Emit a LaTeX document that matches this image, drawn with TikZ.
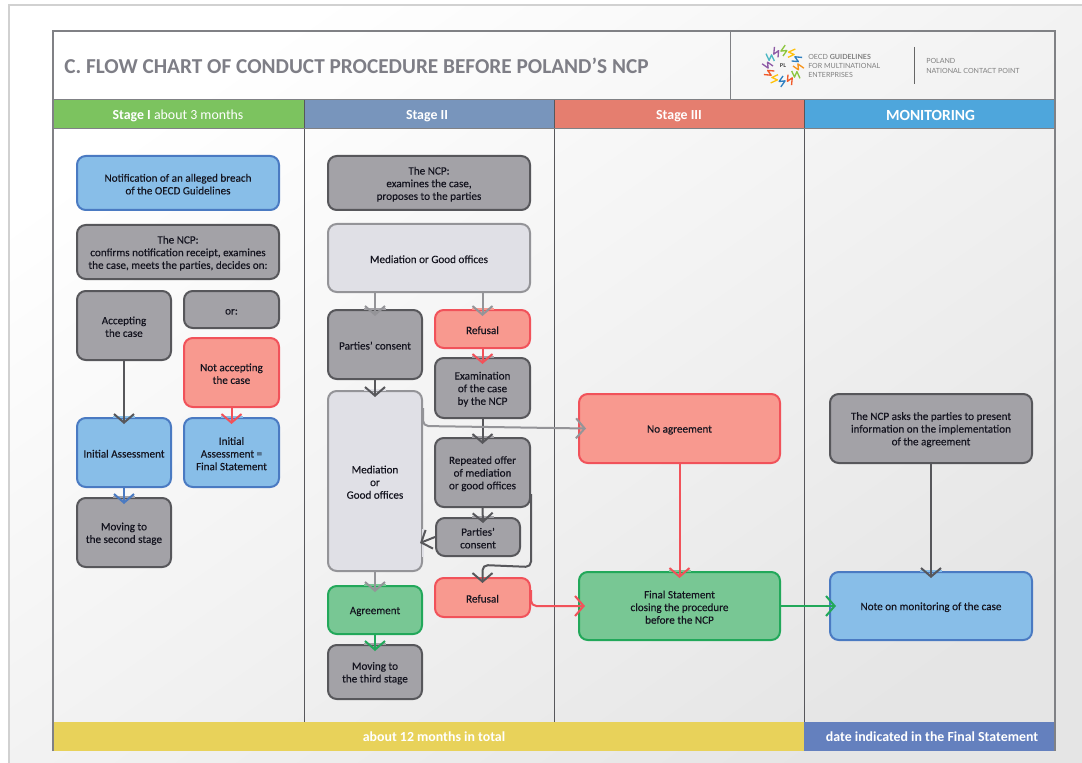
\documentclass[tikz,border=0pt]{standalone}
\usepackage{fontspec}
\setmainfont{Carlito}
\newfontfamily\logofont{Lato}
\newfontfamily\boxfont{Carlito}[FakeBold=0.25]
\usetikzlibrary{arrows.meta,calc}
\definecolor{txt}{HTML}{14141F}
\definecolor{frameg}{HTML}{808185}
\definecolor{greyf}{HTML}{A3A2A7}\definecolor{greyd}{HTML}{57575B}
\definecolor{lightf}{HTML}{E0E0E6}\definecolor{lightd}{HTML}{949498}
\definecolor{bluef}{HTML}{88BEE8}\definecolor{blued}{HTML}{4A7AC2}
\definecolor{redf}{HTML}{F8998F}\definecolor{redd}{HTML}{F1525A}
\definecolor{greenf}{HTML}{78C794}\definecolor{greend}{HTML}{22A85A}
\definecolor{hgreen}{HTML}{7CC35F}\definecolor{hblue}{HTML}{7895BC}
\definecolor{hred}{HTML}{E57E6F}\definecolor{hsky}{HTML}{4EA6DC}
\definecolor{fyellow}{HTML}{E8D25A}\definecolor{fblue}{HTML}{6480BE}
\definecolor{titleg}{HTML}{7E7E86}
\tikzset{
  x=0.75pt,y=-0.75pt,
  box/.style={rounded corners=6.5pt,line width=1.5pt,inner sep=0pt,align=center,font=\boxfont\fontsize{8.35}{9.5}\selectfont,text=txt},
  greybox/.style={box,fill=greyf,draw=greyd},
  lightbox/.style={box,fill=lightf,draw=lightd},
  bluebox/.style={box,fill=bluef,draw=blued},
  redbox/.style={box,fill=redf,draw=redd},
  greenbox/.style={box,fill=greenf,draw=greend},
  flow/.style={line width=1.5pt,rounded corners=4pt,-{Straight Barb[length=6.5pt,width=15pt]}},
  head/.style={inner sep=0pt,text=white,font=\fontsize{10.4}{12}\selectfont},
  rule/.style={draw=frameg,line width=1pt},
  colrule/.style={draw=greyd,line width=0.75pt},
  gap/.style={line width=2.2pt}
}
\newcommand{\bx}[7]{%
  \pgfmathsetmacro\bw{(#5-#3)*0.75}\pgfmathsetmacro\bh{(#6-#4)*0.75}%
  \node[#2,minimum width=\bw pt,minimum height=\bh pt] (#1) at ({(#3+#5)/2},{(#4+#6)/2}) {\rule{0pt}{7.6pt}#7};}
\newcommand{\vflow}[4]{%
  \draw[gap,#2] ($(#4.north)+(-11,0)$) -- ($(#4.north)+(11,0)$);
  \draw[flow,#1] (#4.north |- #3.south) -- ($(#4.north)+(0,7)$);}
\begin{document}
\begin{tikzpicture}
\useasboundingbox (0,0) rectangle (1082,763);
\fill[white] (0,0) rectangle (1082,763);
\shade[top color=white,bottom color=black!10,shading angle=35,draw=black!18,line width=0.8pt] (9,5) rectangle (1084,765);

% bands
\fill[hgreen] (53,100) rectangle (304,128);
\fill[hblue] (304,100) rectangle (554,128);
\fill[hred] (554,100) rectangle (804,128);
\fill[hsky] (804,100) rectangle (1055,128);
\fill[fyellow] (53,722) rectangle (804,751);
\fill[fblue] (804,722) rectangle (1055,751);
% rules
\draw[colrule] (304,100) -- (304,722);
\draw[colrule] (554,100) -- (554,722);
\draw[colrule] (804,100) -- (804,722);
\draw[rule] (53,751) -- (53,31) -- (1055,31) -- (1055,751);
\draw[rule] (53,99.5) -- (1055,99.5);
\draw[rule] (53,128.5) -- (1055,128.5);
\draw[rule] (730.5,31) -- (730.5,99);

% title
\node[anchor=west,inner sep=0pt,text=titleg,font=\fontsize{15.95}{18}\selectfont\bfseries] (title) at (64,65.5) {C. FLOW CHART OF CONDUCT PROCEDURE BEFORE POLAND’S NCP};

% logo
\foreach \a/\c [count=\i] in {0/F7941D,30/8DC63F,60/F15A29,90/2E7FC1,120/FFC20E,150/F15A29,180/8E5BA6,210/4DB8C4,240/8E5BA6,270/8DC63F,300/FFC20E,330/2E7FC1}{
  \definecolor{spoke}{HTML}{\c}
  \draw[spoke,line width=1pt,line join=round] ({783+10*cos(\a)},{66+10*sin(\a)}) -- ({783+16*cos(\a+14)},{66+16*sin(\a+14)}) -- ({783+15*cos(\a-8)},{66+15*sin(\a-8)}) -- ({783+21*cos(\a+6)},{66+21*sin(\a+6)});
}
\node[inner sep=0pt,text=black!80,font=\logofont\fontsize{4}{4}\selectfont\bfseries] (pl) at (783,66) {PL};
\node[anchor=west,inner sep=0pt,align=left,text=black!50,font=\logofont\fontsize{5.3}{6.8}\selectfont] (oecd) at (808,66) {OECD \textbf{GUIDELINES}\\FOR MULTINATIONAL\\ENTERPRISES};
\draw[line width=0.7pt,draw=black!60] (914,47) -- (914,84);
\node[anchor=west,inner sep=0pt,align=left,text=black!50,font=\logofont\fontsize{5.3}{7}\selectfont] (ncpl) at (926,66) {POLAND\\NATIONAL CONTACT POINT};

% headers
\node[head] (h1) at (178,115.5) {\textbf{Stage I} about 3 months};
\node[head] (h2) at (427,116) {\textbf{Stage II}};
\node[head] (h3) at (679,116) {\textbf{Stage III}};
\node[head,font=\fontsize{11.6}{12}\selectfont] (h4) at (930.5,115) {\textbf{MONITORING}};
\node[head] (f1) at (434,737) {\textbf{about 12 months in total}};
\node[head] (f2) at (932,737) {\textbf{date indicated in the Final Statement}};

% stage I
\bx{notif}{bluebox}{77}{156}{279}{210}{Notification of an alleged breach\\of the OECD Guidelines}
\bx{ncpa}{greybox}{77}{225}{279}{279}{The NCP:\\confirms notification receipt, examines\\the case, meets the parties, decides on:}
\bx{acc}{greybox}{77}{291}{171}{360}{Accepting\\the case}
\bx{ora}{greybox}{184}{291}{279}{328}{or:}
\bx{nacc}{redbox}{184}{338}{279}{407}{Not accepting\\the case}
\bx{ia}{bluebox}{77}{418}{171}{487}{Initial Assessment}
\bx{iafs}{bluebox}{184}{418}{279}{487}{Initial\\Assessment =\\Final Statement}
\bx{mov2}{greybox}{77}{498}{171}{567}{Moving to\\the second stage}

% stage II
\bx{ncpb}{greybox}{328}{156}{530}{210}{The NCP:\\examines the case,\\proposes to the parties}
\bx{meda}{lightbox}{328}{224}{530}{292}{Mediation or Good offices}
\bx{cons}{greybox}{328}{310}{422}{379}{Parties’ consent}
\bx{refa}{redbox}{435}{310}{530}{348}{Refusal}
\bx{exam}{greybox}{435}{358}{530}{418}{Examination\\of the case\\by the NCP}
\bx{medb}{lightbox}{328}{391}{422}{571}{Mediation\\or\\Good offices}
\bx{rep}{greybox}{435}{438}{530}{507}{Repeated offer\\of mediation\\or good offices}
\bx{consb}{greybox}{436}{518}{520}{556}{Parties’\\consent}
\bx{refb}{redbox}{435}{578}{530}{617}{Refusal}
\bx{agr}{greenbox}{328}{586}{422}{634}{Agreement}
\bx{mov3}{greybox}{328}{645}{422}{699}{Moving to\\the third stage}

% stage III
\bx{noag}{redbox}{579}{394}{780}{463}{No agreement}
\bx{fin}{greenbox}{579}{572}{780}{640}{Final Statement\\closing the procedure\\before the NCP}

% monitoring
\bx{ncpc}{greybox}{830}{394}{1032}{463}{The NCP asks the parties to present\\information on the implementation\\of the agreement}
\bx{note}{bluebox}{830}{572}{1032}{640}{Note on monitoring of the case}

% connectors
\vflow{greyd}{bluef}{acc}{ia}
\vflow{redd}{bluef}{nacc}{iafs}
\vflow{blued}{greyf}{ia}{mov2}
\vflow{lightd}{greyf}{meda}{cons}
\vflow{lightd}{redf}{meda}{refa}
\vflow{greyd}{lightf}{cons}{medb}
\vflow{redd}{greyf}{refa}{exam}
\vflow{greyd}{greyf}{exam}{rep}
\draw[gap,greyf] ($(consb.north)+(-6,0)$) -- ($(consb.north)+(16,0)$);
\draw[flow,greyd] (rep.south) -- ($(consb.north)+(5,6)$);
\draw[flow,greyd] ($(rep.south east)+(0,-14)$) -- ($(rep.south east)+(0,59)$) -- ($(refb.north)+(0,-12)$) -- ($(refb.north)+(0,6)$);
\draw[gap,lightf] ($(medb.east)+(0,48)$) -- ($(medb.east)+(0,76)$);
\draw[flow,greyd] (consb.west) -- ($(medb.east)+(-3,62)$);
\vflow{lightd}{greenf}{medb}{agr}
\vflow{greend}{greyf}{agr}{mov3}
\draw[flow,lightd] ($(medb.north east)+(0,18)$) -- ($(medb.north east)+(0,36)$) -- ($(noag.west)+(8,0)$);
\draw[flow,redd] ($(refb.south east)+(0,-28)$) -- ($(refb.south east)+(0,-12)$) -- ($(fin.west)+(7,0)$);
\vflow{redd}{greenf}{noag}{fin}
\draw[flow,greend] (fin.east) -- ($(note.west)+(7,0)$);
\vflow{greyd}{bluef}{ncpc}{note}
\end{tikzpicture}
\end{document}
